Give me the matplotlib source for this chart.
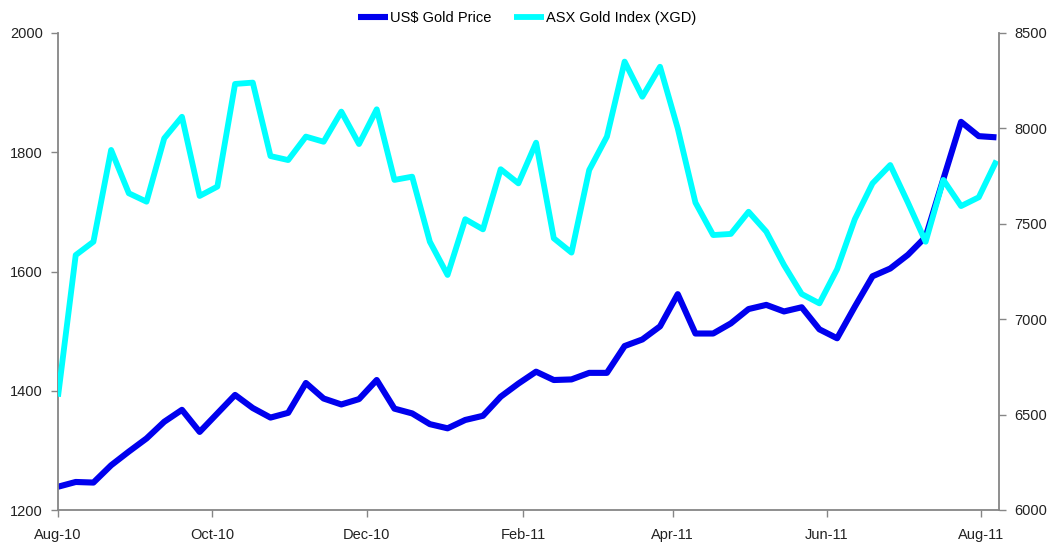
import matplotlib
matplotlib.use("Agg")
import matplotlib.pyplot as plt
import matplotlib.dates as mdates
import numpy as np
import pandas as pd

start_date = "2010-08-01"
n_weeks = 54
gold_price = [1239, 1247, 1246, 1275, 1298, 1320, 1348, 1368, 1331, 1362,
              1393, 1371, 1355, 1363, 1413, 1387, 1377, 1386, 1418, 1370,
              1362, 1344, 1337, 1351, 1358, 1390, 1412, 1432, 1418, 1419,
              1430, 1430, 1475, 1486, 1508, 1562, 1496, 1496, 1513, 1537,
              1544, 1533, 1540, 1503, 1488, 1541, 1592, 1605, 1628, 1658,
              1755, 1851, 1827, 1825]
xgd_index = [6594, 7336, 7406, 7887, 7660, 7616, 7948, 8061, 7646, 7695,
             8233, 8240, 7855, 7834, 7957, 7930, 8088, 7918, 8100, 7730,
             7747, 7406, 7232, 7524, 7471, 7786, 7712, 7925, 7424, 7349,
             7782, 7957, 8350, 8166, 8323, 8000, 7611, 7441, 7447, 7563,
             7459, 7284, 7132, 7083, 7262, 7524, 7712, 7808, 7611, 7406,
             7730, 7593, 7639, 7831]
series_names = ["US$ Gold Price", "ASX Gold Index (XGD)"]
tick_dates = ["2010-08-01", "2010-10-01", "2010-12-01", "2011-02-01",
              "2011-04-01", "2011-06-01", "2011-08-01"]

dates = pd.date_range(start_date, periods=n_weeks, freq="7D")

font = ["Liberation Sans Narrow", "Liberation Sans", "DejaVu Sans"]
plt.rcParams["font.family"] = font

fig = plt.figure(figsize=(10.55, 5.43), dpi=100)
ax = fig.add_axes([58/1055, 1-510/543, (999-58)/1055, (510-33)/543])
ax2 = ax.twinx()

l1, = ax.plot(dates, gold_price, color="#0000EE", lw=4.4,
              solid_joinstyle="round", solid_capstyle="butt", label=series_names[0])
l2, = ax2.plot(dates, xgd_index, color="#00FFFF", lw=4.2,
               solid_joinstyle="round", solid_capstyle="butt", label=series_names[1])

ax.set_ylim(1200, 2000)
ax.set_yticks(np.arange(1200, 2001, 200))
ax2.set_ylim(6000, 8500)
ax2.set_yticks(np.arange(6000, 8501, 500))
ax.set_xlim(pd.Timestamp("2010-08-01"), pd.Timestamp("2011-08-08"))
ax.set_xticks(pd.to_datetime(tick_dates))
ax.xaxis.set_major_formatter(mdates.DateFormatter("%b-%y"))

gray = "#868686"
for a in (ax, ax2):
    a.spines["top"].set_visible(False)
    for s in ["left", "right", "bottom"]:
        a.spines[s].set_color(gray)
        a.spines[s].set_linewidth(1.3)
    a.tick_params(colors=gray, labelcolor="#222222", labelsize=10.5,
                  length=5, width=1.0, direction="out")
ax.tick_params(axis="x", pad=8)
ax.tick_params(axis="y", pad=6)
ax2.tick_params(axis="y", pad=6)
ax.spines["right"].set_visible(False)
ax2.spines["left"].set_visible(False)
ax2.spines["bottom"].set_visible(False)

fig.legend([l1, l2], series_names, loc="center", bbox_to_anchor=(527/1055, 1-18/543),
           ncol=2, frameon=False, fontsize=10.5, handlelength=2.05, handletextpad=0.1,
           columnspacing=1.6)

fig.savefig("out.png", dpi=100)
